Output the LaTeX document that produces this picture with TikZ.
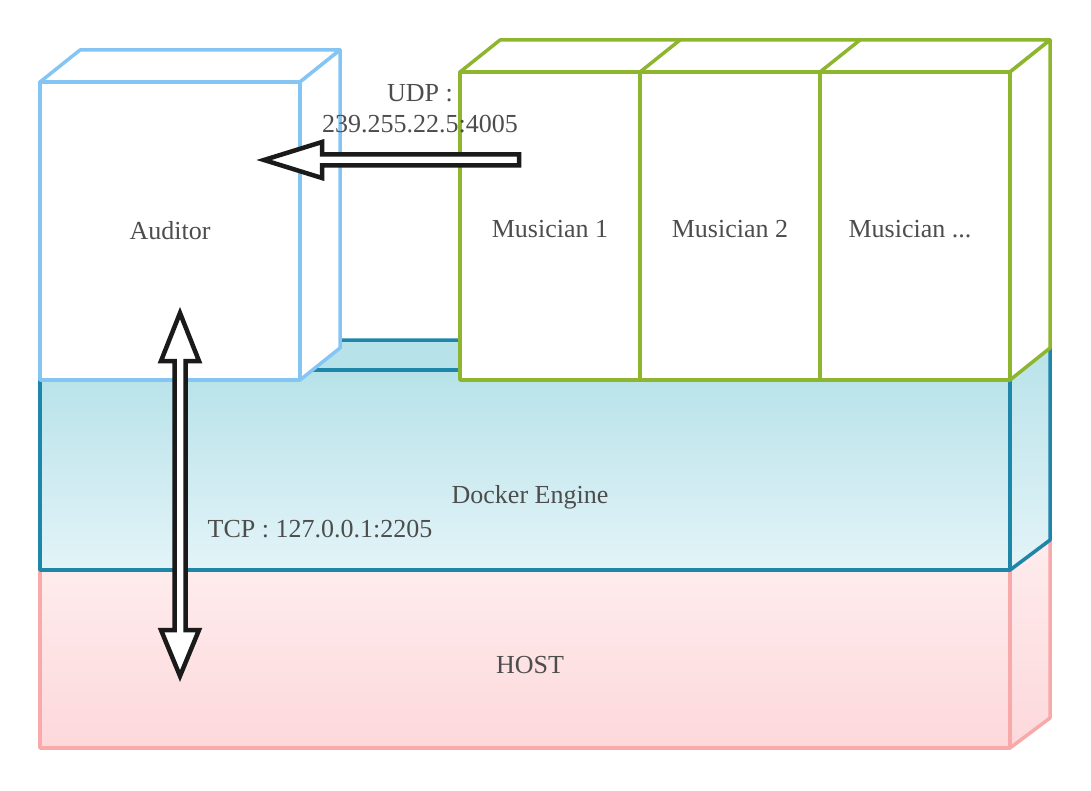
\documentclass[tikz,border=0pt]{standalone}
\usepackage{fontspec}
\setmainfont{Liberation Serif}
\definecolor{audc}{RGB}{133,197,243}
\definecolor{musc}{RGB}{141,182,46}
\definecolor{dockc}{RGB}{30,134,168}
\definecolor{dockt}{RGB}{183,226,233}
\definecolor{dockb}{RGB}{227,244,248}
\definecolor{hostc}{RGB}{248,170,170}
\definecolor{hostt}{RGB}{254,236,237}
\definecolor{hostb}{RGB}{253,216,219}
\definecolor{txtc}{RGB}{77,77,77}
\definecolor{arrc}{RGB}{26,26,26}
\begin{document}
\begin{tikzpicture}[x=1pt,y=-1pt,
  lbl/.style={anchor=base,inner sep=0pt,text=txtc,font=\fontsize{26}{31}\selectfont},
  audbox/.style={draw=audc,line width=3.5pt,fill=white,line join=round},
  musbox/.style={draw=musc,line width=3.5pt,fill=white,line join=round},
  dockbox/.style={draw=dockc,line width=3.5pt,line join=round,top color=dockt,bottom color=dockb},
  hostbox/.style={draw=hostc,line width=3.5pt,line join=round,top color=hostt,bottom color=hostb},
  blockarrow/.style={draw=arrc,line width=4.5pt,fill=white,line join=miter}]
\useasboundingbox[fill=white] (0,0) rectangle (1091,791);
% HOST
\draw[hostbox] (40,570) -- (80,540) -- (1050,540) -- (1010,570) -- cycle;
\draw[hostbox] (1010,570) -- (1050,540) -- (1050,718) -- (1010,748) -- cycle;
\draw[hostbox] (40,570) rectangle (1010,748);
% Docker Engine
\draw[dockbox,top color=dockt,bottom color=dockt] (40,370) -- (80,340) -- (1050,340) -- (1010,370) -- cycle;
\draw[dockbox] (1010,370) -- (1050,340) -- (1050,540) -- (1010,570) -- cycle;
\draw[dockbox] (40,370) rectangle (1010,570);
% Auditor
\draw[audbox] (40,82) -- (80,50) -- (340,50) -- (300,82) -- cycle;
\draw[audbox] (300,82) -- (340,50) -- (340,348) -- (300,380) -- cycle;
\draw[audbox] (40,82) rectangle (300,380);
% Musicians
\draw[musbox] (460,72) -- (500,40) -- (1050,40) -- (1010,72) -- cycle;
\draw[musc,line width=3.5pt] (640,72) -- (680,40) (820,72) -- (860,40);
\draw[musbox] (1010,72) -- (1050,40) -- (1050,348) -- (1010,380) -- cycle;
\draw[musbox] (460,72) rectangle (640,380);
\draw[musbox] (640,72) rectangle (820,380);
\draw[musbox] (820,72) rectangle (1010,380);
% labels
\node[lbl] (aud) at (170,240) {Auditor};
\node[lbl] (m1) at (550,238) {Musician 1};
\node[lbl] (m2) at (730,238) {Musician 2};
\node[lbl] (m3) at (910,238) {Musician ...};
\node[lbl] (dock) at (530,503) {Docker Engine};
\node[lbl] (host) at (530,673) {HOST};
% UDP arrow
\draw[blockarrow] (519,154.5) -- (519,165.5) -- (322,165.5) -- (322,178) -- (264,160) -- (322,142) -- (322,154.5) -- cycle;
\node[lbl] (udp1) at (420,102) {UDP :};
\node[lbl] (udp2) at (420,133) {239.255.22.5:4005};
% TCP arrow
\draw[blockarrow] (180,313) -- (199,361) -- (185.5,361) -- (185.5,630) -- (199,630) -- (180,676) -- (161,630) -- (174.5,630) -- (174.5,361) -- (161,361) -- cycle;
\node[lbl] (tcp) at (320,537) {TCP : 127.0.0.1:2205};
\end{tikzpicture}
\end{document}
